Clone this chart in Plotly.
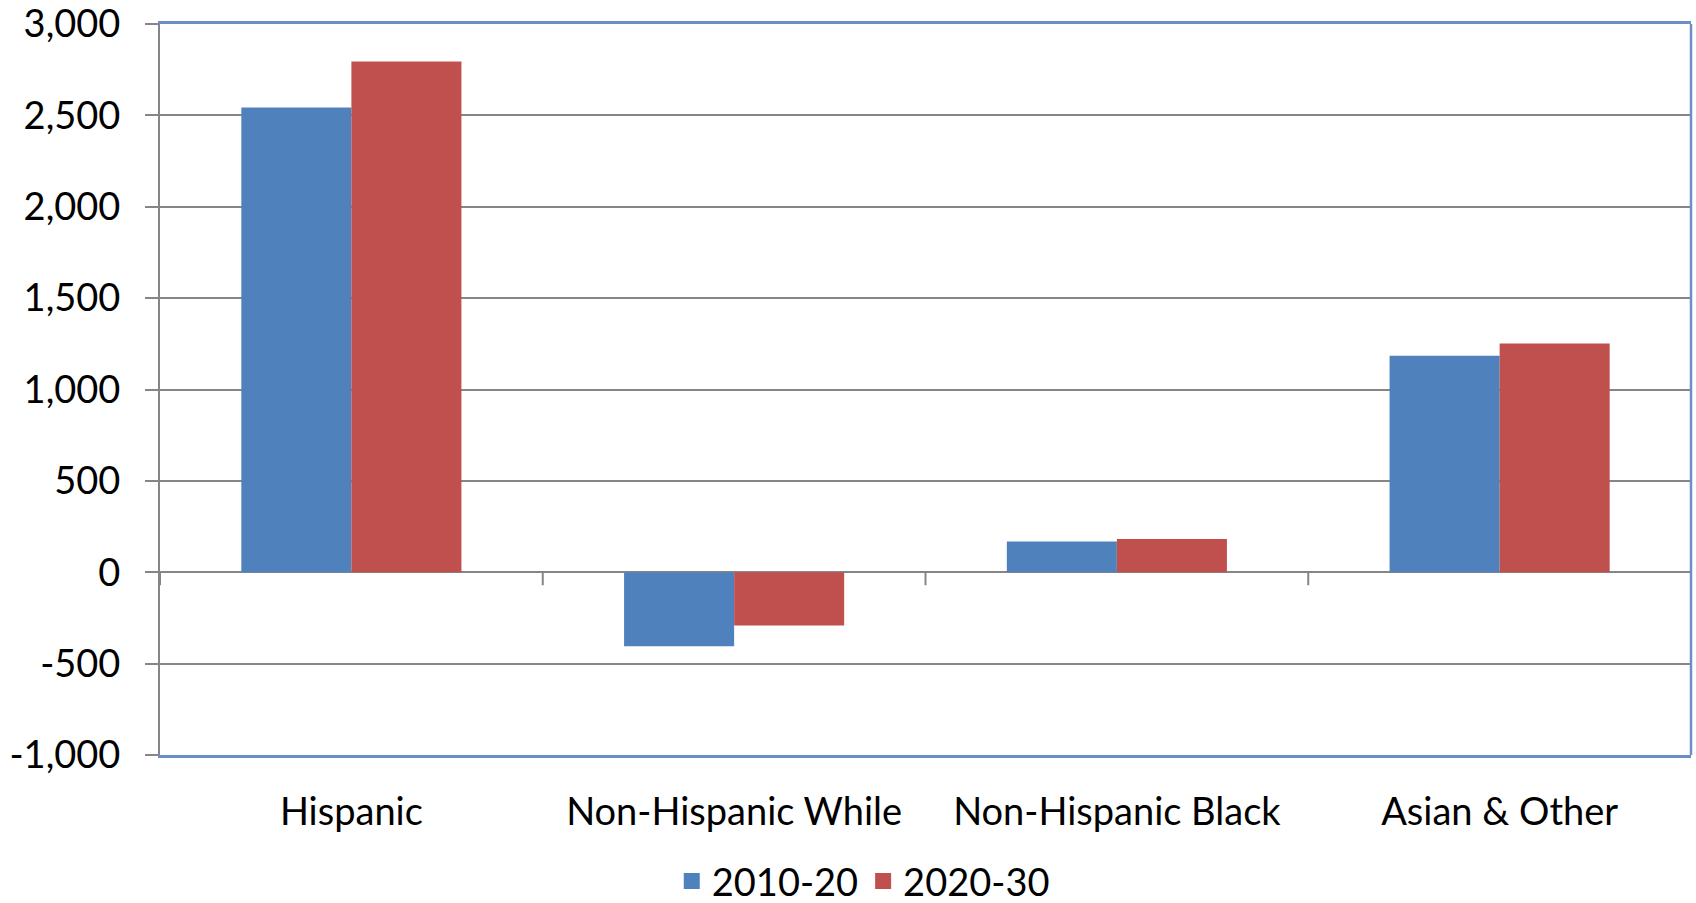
import plotly.graph_objects as go

categories = ["Hispanic", "Non-Hispanic While", "Non-Hispanic Black", "Asian & Other"]
series_2010_20 = [2543, -405, 168, 1185]
series_2020_30 = [2795, -292, 182, 1252]
y_tick_values = [-1000, -500, 0, 500, 1000, 1500, 2000, 2500, 3000]
y_tick_labels = ["-1,000", "-500", "0", "500", "1,000", "1,500", "2,000", "2,500", "3,000"]

BLUE = "#4F81BD"
RED = "#C0504D"
GRID = "#868686"
BORDER = "#6A8FC7"
FONT = "Lato"
FS = 38

fig = go.Figure()
fig.add_trace(go.Bar(x=categories, y=series_2010_20, name="2010-20",
                     marker=dict(color=BLUE, line=dict(width=0)), showlegend=False))
fig.add_trace(go.Bar(x=categories, y=series_2020_30, name="2020-30",
                     marker=dict(color=RED, line=dict(width=0)), showlegend=False))
# legend entries with larger square swatches
fig.add_trace(go.Scatter(x=[None], y=[None], mode="markers", name="2010-20",
                         marker=dict(symbol="square", size=24, color=BLUE)))
fig.add_trace(go.Scatter(x=[None], y=[None], mode="markers", name="2020-30",
                         marker=dict(symbol="square", size=24, color=RED)))

# category tick marks hanging below the zero line
shapes = []
for i in range(len(categories) + 1):
    shapes.append(dict(type="line", xref="x", yref="y", x0=i - 0.5, x1=i - 0.5,
                       ysizemode="pixel", yanchor=0, y0=0, y1=-13,
                       line=dict(color=GRID, width=2), layer="above"))
# right border of plot area
shapes.append(dict(type="line", xref="paper", yref="paper", x0=1, x1=1, y0=0, y1=1,
                   line=dict(color=BORDER, width=2.5), layer="above"))

fig.update_layout(
    width=1696, height=903,
    margin=dict(l=160, r=5, t=24, b=148, autoexpand=False),
    paper_bgcolor="white", plot_bgcolor="white",
    font=dict(family=FONT, size=FS, color="black"),
    barmode="group", bargap=0.425, bargroupgap=0,
    shapes=shapes,
    legend=dict(orientation="h", xref="container", yref="container",
                x=0.509, xanchor="center", y=0.024, yanchor="middle",
                font=dict(family=FONT, size=FS), itemsizing="trace",
                itemwidth=30, tracegroupgap=0),
)
fig.update_xaxes(
    type="category", range=[-0.5, len(categories) - 0.5], automargin=False,
    showline=True, mirror=True, linecolor=BORDER, linewidth=2.5,
    showgrid=False, ticks="", ticklabelstandoff=22,
    tickfont=dict(family=FONT, size=FS, color="black"),
)
fig.update_yaxes(
    range=[-1000, 3000], tickvals=y_tick_values, ticktext=y_tick_labels,
    automargin=False,
    showline=True, linecolor=GRID, linewidth=2,
    showgrid=True, gridcolor=GRID, gridwidth=2,
    zeroline=True, zerolinecolor=GRID, zerolinewidth=2,
    ticks="outside", ticklen=13, tickcolor=GRID, tickwidth=2,
    ticklabelstandoff=17, ticklabeloverflow="allow",
    tickfont=dict(family=FONT, size=FS, color="black"),
)

fig.write_html("out.html")
